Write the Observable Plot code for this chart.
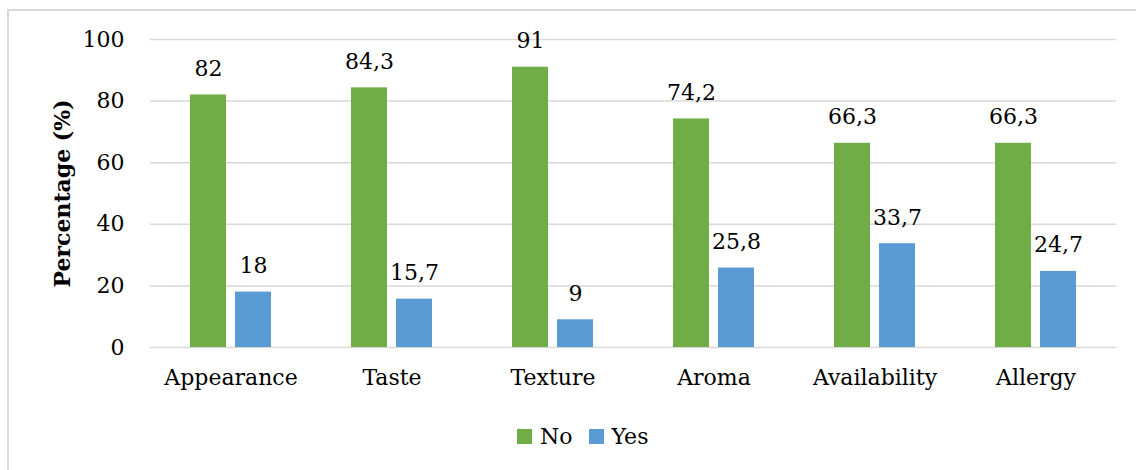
<!DOCTYPE html>
<html>
<head>
<meta charset="utf-8">
<script src="https://cdn.jsdelivr.net/npm/d3@7"></script>
<script src="https://cdn.jsdelivr.net/npm/@observablehq/plot@0.6"></script>
<style>
  html, body { margin: 0; padding: 0; background: #fff; overflow: hidden; }
  body { width: 1136px; height: 470px; position: relative; font-family: "DejaVu Serif", serif; color: #000; }
  #frame { position: absolute; left: 7px; top: 9px; width: 1300px; height: 700px; border: 2px solid #d9d9d9; box-sizing: border-box; }
  #chart { position: absolute; left: 0; top: 0; }
  #chart g[aria-label="y-axis label"] { font-weight: bold; }
  #legend { position: absolute; left: 517px; top: 421px; height: 30px; display: flex; align-items: center; font-size: 22px; }
  .item { display: flex; align-items: center; margin-right: 16px; }
  .swatch { width: 15px; height: 15px; margin-right: 8px; }
</style>
</head>
<body>
<div id="frame"></div>
<div id="chart"></div>
<div id="legend"></div>
<script>
const categories = ["Appearance", "Taste", "Texture", "Aroma", "Availability", "Allergy"];
const answers = ["No", "Yes"];
const noValues = [82, 84.3, 91, 74.2, 66.3, 66.3];
const yesValues = [18, 15.7, 9, 25.8, 33.7, 24.7];
const yTicks = [0, 20, 40, 60, 80, 100];
const colors = ["#70ad47", "#5b9bd5"];

const rows = categories.flatMap((c, i) => [
  {category: c, answer: "No", value: noValues[i]},
  {category: c, answer: "Yes", value: yesValues[i]}
]);

// decimal comma for the value labels
const fmt = (v) => String(v).replace(".", ",");

const chart = Plot.plot({
  width: 1136,
  height: 410,
  marginLeft: 148,
  marginRight: 18,
  marginTop: 39,
  marginBottom: 63,
  style: {fontFamily: "DejaVu Serif, serif", fontSize: "22px", color: "#000", background: "transparent", overflow: "visible"},
  fx: {domain: categories, paddingInner: 0, paddingOuter: 0, axis: "bottom", tickSize: 0, tickPadding: 22, label: null},
  x: {domain: answers, paddingInner: 0.198, paddingOuter: 0.876, axis: null},
  y: {domain: [0, 100], ticks: yTicks, tickSize: 0, tickPadding: 26, label: "Percentage (%)", labelArrow: "none", labelAnchor: "center", labelOffset: 96},
  color: {domain: answers, range: colors},
  marks: [
    Plot.ruleY(yTicks, {stroke: "#d9d9d9", strokeWidth: 1.5}),
    Plot.barY(rows, {fx: "category", x: "answer", y: "value", fill: "answer"}),
    Plot.text(rows, {fx: "category", x: "answer", y: "value", text: (d) => fmt(d.value), dy: -26, fontSize: 22, fill: "#000"})
  ]
});
document.getElementById("chart").appendChild(chart);

// legend below the plot
const legend = document.getElementById("legend");
answers.forEach((a, i) => {
  const item = document.createElement("div");
  item.className = "item";
  const sw = document.createElement("span");
  sw.className = "swatch";
  sw.style.background = colors[i];
  const label = document.createElement("span");
  label.textContent = a;
  item.appendChild(sw);
  item.appendChild(label);
  legend.appendChild(item);
});
</script>
</body>
</html>
